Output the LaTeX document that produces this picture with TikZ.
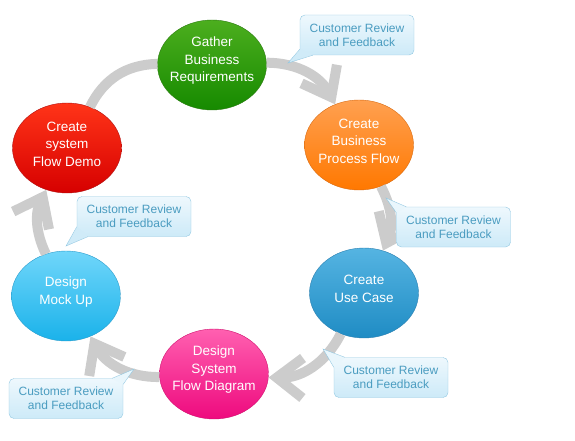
\documentclass[tikz,border=0pt]{standalone}
\usepackage{fontspec}
\setmainfont{Liberation Sans}
\usetikzlibrary{shapes.geometric,arrows.meta}

\definecolor{flowgray}{HTML}{CCCCCC}
\definecolor{greentop}{HTML}{4CAE1E}\definecolor{greenbot}{HTML}{168A00}\definecolor{greenline}{HTML}{2A7A10}
\definecolor{orangetop}{HTML}{FFA050}\definecolor{orangebot}{HTML}{FF7800}\definecolor{orangeline}{HTML}{D86A10}
\definecolor{bluetop}{HTML}{55B4E2}\definecolor{bluebot}{HTML}{1F8CC4}\definecolor{blueline}{HTML}{2A7FB0}
\definecolor{pinktop}{HTML}{FF60B0}\definecolor{pinkbot}{HTML}{EE0A7E}\definecolor{pinkline}{HTML}{D0106E}
\definecolor{skytop}{HTML}{70D6FA}\definecolor{skybot}{HTML}{1AB2EA}\definecolor{skyline}{HTML}{2A9CCC}
\definecolor{redtop}{HTML}{FF3418}\definecolor{redbot}{HTML}{D60000}\definecolor{redline}{HTML}{B01010}
\definecolor{calltop}{HTML}{EEF8FD}\definecolor{callbot}{HTML}{CDEAF8}
\definecolor{callline}{HTML}{92C8E2}\definecolor{calltext}{HTML}{4A9CC0}

\begin{document}
\begin{tikzpicture}[
		x=1pt,y=1pt,
		stage/.style={ellipse,minimum width=109pt,minimum height=90pt,inner sep=0pt,thin},
		stagetext/.style={align=center,text=white,font=\fontsize{13.5}{17.5}\selectfont,inner sep=0pt,yshift=4pt},
		review/.style={rectangle,rounded corners=5pt,minimum width=114pt,minimum height=40pt,
			inner sep=0pt,align=center,draw=callline,top color=calltop,bottom color=callbot,
			text=calltext,font=\fontsize{12}{14}\selectfont,thin},
		tipup/.style={fill=calltop!85!callbot},
		tipdown/.style={fill=callbot!92!calltop},
		tipline/.style={draw=callline,thin},
		flow/.style={draw=flowgray,line width=10pt,-{Straight Barb[length=26pt,width=40pt]}},
		plain/.style={draw=flowgray,line width=10pt}
		]
		\useasboundingbox (0,0) rectangle (575,440);
		\node[stage,draw=greenline,top color=greentop,bottom color=greenbot,
			label={[stagetext]center:Gather\\Business\\Requirements}](gather) at (212,375){};
		\node[stage,draw=orangeline,top color=orangetop,bottom color=orangebot,
			label={[stagetext]center:Create\\Business\\Process Flow}](process) at (359,295){};
		\node[stage,draw=blueline,top color=bluetop,bottom color=bluebot,
			label={[stagetext]center:Create\\Use Case}](usecase) at (364,147){};
		\node[stage,draw=pinkline,top color=pinktop,bottom color=pinkbot,
			label={[stagetext]center:Design\\System\\Flow Diagram}](diagram) at (214,66){};
		\node[stage,draw=skyline,top color=skytop,bottom color=skybot,
			label={[stagetext]center:Design\\Mock Up}](mockup) at (66,144){};
		\node[stage,draw=redline,top color=redtop,bottom color=redbot,
			label={[stagetext]center:Create\\system\\Flow Demo}](demo) at (67,292){};
		\path
		(gather) edge [flow,bend left=31] (process)
		(process) edge [flow,bend left=26] (usecase)
		(usecase) edge [flow,bend left=32] (diagram)
		(diagram) edge [flow,bend left=31] (mockup)
		(mockup) edge [flow,bend left=26] (demo)
		(demo) edge [plain,bend left=31] (gather)
		;
		
		% feedback callouts
		\node[review](fbA) at (357,405){Customer Review\\and Feedback};
		\node[review](fbB) at (453.5,213){Customer Review\\and Feedback};
		\node[review](fbC) at (391,62.5){Customer Review\\and Feedback};
		\node[review](fbD) at (66,41.5){Customer Review\\and Feedback};
		\node[review](fbE) at (134,223.5){Customer Review\\and Feedback};
		\coordinate (tipA) at (288,377);
		\coordinate (tipB) at (386,242);
		\coordinate (tipC) at (323,91);
		\coordinate (tipD) at (134,71);
		\coordinate (tipE) at (66,194);
		
		\fill[tipdown] ([xshift=0.4pt,yshift=6pt]fbA.south west) -- (tipA) -- ([xshift=13pt,yshift=0.4pt]fbA.south west) -- cycle;
		\draw[tipline] ([yshift=6pt]fbA.south west) -- (tipA) -- ([xshift=13pt]fbA.south west);
		\fill[tipup] ([xshift=10pt,yshift=-0.4pt]fbB.north west) -- (tipB) -- ([xshift=0.4pt,yshift=-6pt]fbB.north west) -- cycle;
		\draw[tipline] ([xshift=10pt]fbB.north west) -- (tipB) -- ([yshift=-6pt]fbB.north west);
		\fill[tipup] ([xshift=11pt,yshift=-0.4pt]fbC.north west) -- (tipC) -- ([xshift=0.4pt,yshift=-10pt]fbC.north west) -- cycle;
		\draw[tipline] ([xshift=11pt]fbC.north west) -- (tipC) -- ([yshift=-10pt]fbC.north west);
		\fill[tipup] ([xshift=-11pt,yshift=-0.4pt]fbD.north east) -- (tipD) -- ([xshift=-0.4pt,yshift=-6pt]fbD.north east) -- cycle;
		\draw[tipline] ([xshift=-11pt]fbD.north east) -- (tipD) -- ([yshift=-6pt]fbD.north east);
		\fill[tipdown] ([xshift=0.4pt,yshift=10pt]fbE.south west) -- (tipE) -- ([xshift=11pt,yshift=0.4pt]fbE.south west) -- cycle;
		\draw[tipline] ([yshift=10pt]fbE.south west) -- (tipE) -- ([xshift=11pt]fbE.south west);
		
		\end{tikzpicture}
\end{document}
